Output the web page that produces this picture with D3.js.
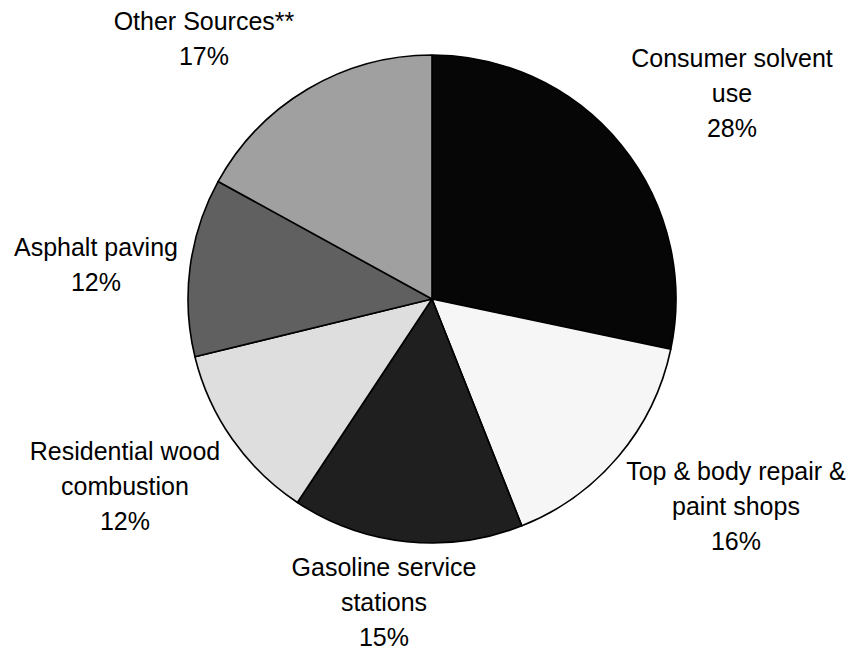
<!DOCTYPE html>
<html>
<head>
<meta charset="utf-8">
<script src="https://cdn.jsdelivr.net/npm/d3@7"></script>
<style>
  html, body { margin: 0; padding: 0; background: #ffffff; }
  svg { display: block; }
  text { font-family: "Liberation Sans", Arial, sans-serif; fill: #000; }
</style>
</head>
<body>
<script>
// ---- data ----
const categories = ["Consumer solvent use", "Top & body repair & paint shops", "Gasoline service stations", "Residential wood combustion", "Asphalt paving", "Other Sources**"];
const values = [28.3, 15.7, 15.3, 11.9, 11.8, 17.0];
const percentLabels = ["28%", "16%", "15%", "12%", "12%", "17%"];
const labelLines = [["Consumer solvent", "use"], ["Top & body repair &", "paint shops"], ["Gasoline service", "stations"], ["Residential wood", "combustion"], ["Asphalt paving"], ["Other Sources**"]];
const sliceColors = ["#060606", "#f6f6f6", "#1f1f1f", "#dedede", "#606060", "#a0a0a0"];

// ---- layout ----
const W = 860, H = 650;
const cx = 432, cy = 299, R = 244;
const lineStep = 35;
// label anchors: [center x, first baseline y]
const labelAnchors = [[732, 67], [736, 480], [384, 576], [125, 460], [96, 256], [204, 30]];

const svg = d3.select("body").append("svg").attr("width", W).attr("height", H);

const pie = d3.pie().sort(null).value(d => d.value);
const arc = d3.arc().innerRadius(0).outerRadius(R);
const data = categories.map((c, i) => ({ name: c, value: values[i], i }));

const g = svg.append("g").attr("transform", `translate(${cx},${cy})`);
g.selectAll("path").data(pie(data)).join("path")
  .attr("d", arc)
  .attr("fill", d => sliceColors[d.data.i])
  .attr("stroke", "#000")
  .attr("stroke-width", 1.6)
  .attr("stroke-linejoin", "round");

const labels = svg.append("g");
data.forEach((d, i) => {
  const [ax, ay] = labelAnchors[i];
  const lines = labelLines[i].concat([percentLabels[i]]);
  const t = labels.append("text")
    .attr("text-anchor", "middle")
    .attr("font-size", 25);
  lines.forEach((ln, k) => {
    t.append("tspan").attr("x", ax).attr("y", ay + k * lineStep).text(ln);
  });
});
</script>
</body>
</html>
